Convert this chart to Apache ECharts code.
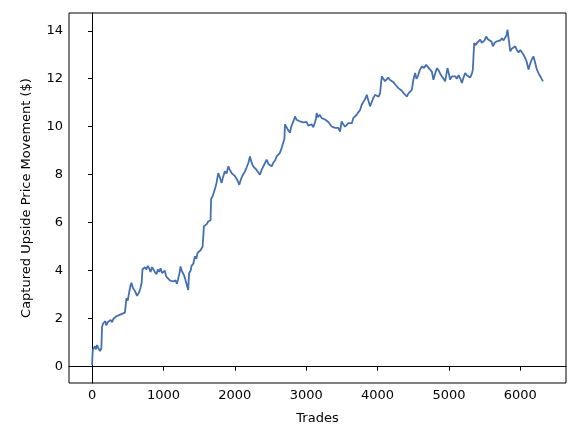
<!DOCTYPE html>
<html>
<head>
<meta charset="utf-8">
<script src="https://cdn.jsdelivr.net/npm/echarts@6/dist/echarts.min.js"></script>
<style>
  html, body { margin: 0; padding: 0; background: #fff; }
  #chart { width: 587px; height: 438px; }
</style>
</head>
<body>
<div id="chart"></div>
<script>
// trade count (x) and captured upside movement (y)
const trades = [
  0, 10, 25, 40, 55, 70, 85, 100, 110, 120, 130, 140, 155, 170, 185, 200, 220, 240, 260, 280,
  300, 320, 340, 360, 380, 400, 420, 440, 460, 475, 482, 500, 520, 540, 552, 570, 590, 610, 630, 646,
  660, 680, 695, 706, 720, 740, 760, 780, 800, 820, 840, 860, 880, 903, 920, 940, 960, 980, 1000, 1020,
  1040, 1060, 1090, 1110, 1130, 1150, 1170, 1190, 1210, 1225, 1240, 1255, 1270, 1290, 1310, 1330, 1347, 1360, 1380, 1394,
  1420, 1440, 1460, 1480, 1500, 1520, 1548, 1560, 1567, 1590, 1610, 1627, 1650, 1660, 1668, 1690, 1710, 1721, 1740, 1755,
  1768, 1790, 1814, 1835, 1861, 1885, 1908, 1930, 1955, 1980, 2000, 2020, 2040, 2062, 2085, 2105, 2125, 2142, 2165, 2190,
  2212, 2235, 2258, 2280, 2305, 2330, 2352, 2375, 2400, 2425, 2446, 2470, 2492, 2516, 2540, 2565, 2586, 2609, 2630, 2656,
  2679, 2695, 2703, 2720, 2740, 2760, 2773, 2790, 2810, 2830, 2843, 2866, 2890, 2913, 2935, 2960, 2983, 3005, 3030, 3053,
  3075, 3100, 3123, 3135, 3147, 3165, 3190, 3217, 3240, 3265, 3290, 3310, 3335, 3357, 3380, 3405, 3428, 3450, 3474, 3485,
  3497, 3520, 3545, 3568, 3590, 3614, 3640, 3660, 3685, 3708, 3730, 3755, 3778, 3800, 3825, 3849, 3870, 3895, 3915, 3940,
  3965, 3990, 4015, 4035, 4059, 4080, 4105, 4129, 4150, 4175, 4200, 4225, 4250, 4270, 4292, 4316, 4340, 4365, 4386, 4410,
  4435, 4456, 4480, 4502, 4526, 4545, 4565, 4590, 4620, 4650, 4680, 4705, 4730, 4760, 4783, 4805, 4830, 4855, 4880, 4900,
  4925, 4947, 4965, 4980, 5000, 5017, 5040, 5065, 5090, 5110, 5135, 5160, 5181, 5205, 5227, 5250, 5275, 5297, 5320, 5335,
  5345, 5354, 5375, 5395, 5418, 5438, 5460, 5480, 5500, 5522, 5545, 5570, 5595, 5616, 5640, 5672, 5695, 5720, 5742, 5765,
  5788, 5805, 5821, 5835, 5859, 5880, 5905, 5929, 5950, 5975, 6000, 6023, 6045, 6069, 6090, 6115, 6135, 6160, 6185, 6205,
  6232, 6260, 6290, 6317
];
const upside = [
  0.08, 0.7, 0.62, 0.85, 0.72, 0.9, 0.8, 0.88, 0.65, 0.6, 0.75, 1.65, 1.8, 1.75, 1.9, 1.72, 1.85, 1.8, 1.95, 1.85,
  2.0, 1.95, 2.1, 2.05, 2.15, 2.1, 2.2, 2.15, 2.25, 2.3, 2.85, 2.75, 3.1, 3.4, 3.5, 3.3, 3.2, 3.1, 2.95, 2.92,
  3.1, 3.3, 3.5, 4.05, 4.0, 4.15, 4.05, 4.2, 4.1, 3.95, 4.15, 4.05, 3.95, 3.85, 4.05, 3.95, 4.1, 3.9, 3.85, 4.0,
  3.75, 3.8, 3.6, 3.65, 3.55, 3.5, 3.6, 3.45, 3.5, 3.9, 4.18, 4.0, 3.95, 3.8, 3.6, 3.55, 3.2, 3.9, 4.0, 4.2,
  4.3, 4.6, 4.5, 4.75, 4.7, 4.85, 5.0, 5.5, 5.85, 5.8, 5.95, 6.05, 6.0, 6.1, 7.0, 7.1, 7.3, 7.4, 7.6, 7.85,
  8.07, 7.9, 7.65, 7.9, 8.14, 8.05, 8.35, 8.2, 8.07, 8.1, 7.95, 7.85, 7.75, 7.58, 7.8, 7.95, 8.05, 8.14, 8.3, 8.5,
  8.76, 8.5, 8.35, 8.3, 8.2, 8.15, 8.0, 8.2, 8.35, 8.5, 8.63, 8.45, 8.42, 8.35, 8.5, 8.6, 8.76, 8.76, 8.9, 9.11,
  9.1, 9.5, 10.1, 10.0, 9.9, 9.85, 9.75, 10.0, 10.15, 10.3, 10.43, 10.29, 10.3, 10.22, 10.25, 10.18, 10.15, 10.2, 10.05, 10.01,
  10.1, 9.98, 10.0, 10.3, 10.57, 10.4, 10.5, 10.36, 10.4, 10.3, 10.32, 10.2, 10.15, 10.01, 10.0, 9.95, 9.88, 9.95, 9.8, 10.0,
  10.22, 10.1, 10.0, 10.08, 10.15, 10.22, 10.15, 10.36, 10.4, 10.5, 10.6, 10.7, 10.92, 11.0, 11.15, 11.33, 11.1, 10.85, 11.0, 11.2,
  11.33, 11.3, 11.25, 11.4, 12.1, 12.0, 11.9, 11.96, 12.05, 11.95, 11.9, 11.85, 11.75, 11.7, 11.61, 11.68, 11.5, 11.4, 11.33, 11.26,
  11.4, 11.35, 11.54, 11.96, 12.24, 12.0, 12.1, 12.35, 12.51, 12.45, 12.58, 12.5, 12.4, 12.3, 11.96, 12.2, 12.44, 12.35, 12.2, 12.1,
  12.0, 11.89, 12.2, 12.44, 12.2, 11.96, 12.1, 12.05, 12.1, 12.0, 12.15, 12.0, 11.82, 12.05, 12.24, 12.15, 12.1, 12.05, 12.2, 12.38,
  13.0, 13.49, 13.4, 13.5, 13.45, 13.63, 13.5, 13.45, 13.6, 13.76, 13.65, 13.7, 13.55, 13.35, 13.5, 13.56, 13.5, 13.6, 13.69, 13.6,
  13.55, 13.8, 14.04, 13.7, 13.14, 13.25, 13.2, 13.35, 13.2, 13.1, 13.2, 13.25, 13.0, 12.86, 12.7, 12.38, 12.6, 12.8, 12.93, 12.7,
  12.38, 12.2, 12.05, 11.89
];
const xTicks = [0, 1000, 2000, 3000, 4000, 5000, 6000];
const yTicks = [0, 2, 4, 6, 8, 10, 12, 14];

const chart = echarts.init(document.getElementById("chart"), null, { renderer: "canvas" });

const axisText = { color: "#000", fontSize: 13, fontFamily: "DejaVu Sans" };

const option = {
  animation: false,
  grid: {
    left: 69,
    right: 21,
    top: 13,
    bottom: 55,
    show: true,
    borderColor: "#000",
    borderWidth: 1,
  },
  xAxis: {
    type: "value",
    min: -323,
    max: 6640,
    name: "Trades",
    nameLocation: "middle",
    nameGap: 29,
    nameTextStyle: axisText,
    axisLine: { show: true, lineStyle: { color: "#000", width: 1 } },
    axisTick: { show: true, length: 4, lineStyle: { color: "#000" }, customValues: xTicks },
    axisLabel: { ...axisText, margin: 6, customValues: xTicks, formatter: (v) => String(v) },
    splitLine: { show: false },
  },
  yAxis: {
    type: "value",
    min: -0.68,
    max: 14.74,
    name: "Captured Upside Price Movement ($)",
    nameLocation: "middle",
    nameGap: 36,
    nameTextStyle: axisText,
    axisLine: { show: true, lineStyle: { color: "#000", width: 1 } },
    axisTick: { show: true, length: 4, lineStyle: { color: "#000" }, customValues: yTicks },
    axisLabel: { ...axisText, margin: 6, customValues: yTicks, formatter: (v) => String(v) },
    splitLine: { show: false },
  },
  series: [
    {
      type: "line",
      data: trades.map((t, i) => [t, upside[i]]),
      showSymbol: false,
      symbol: "none",
      lineStyle: { color: "#4470b0", width: 1.8 },
    },
  ],
};

chart.setOption(option);
</script>
</body>
</html>
